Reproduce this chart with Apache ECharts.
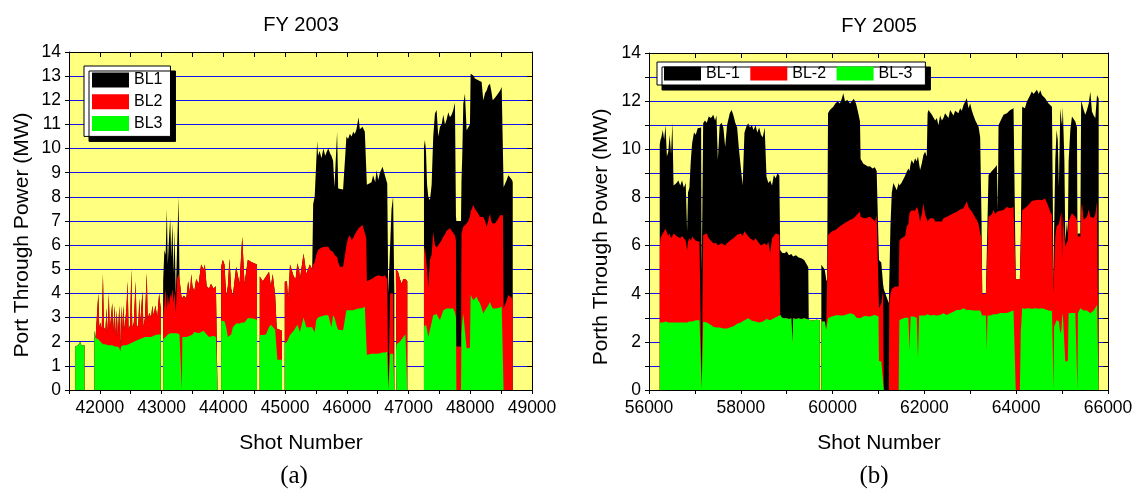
<!DOCTYPE html>
<html><head><meta charset="utf-8">
<script src="https://cdn.jsdelivr.net/npm/echarts@6/dist/echarts.min.js"></script>
<style>html,body{margin:0;padding:0;background:#fff}#c{width:1136px;height:489px}</style>
</head><body><div id="c"></div>
<script>
// ---------- Panel (a) FY 2003 ----------
const shotsA = [
 41600,41650,41680,41700,41750,41755,
 41910,41930,41960,41975,41990,42010,42030,42050,42065,42090,42110,42125,42145,42160,42180,42200,42215,42240,42255,42275,42290,42315,42330,42345,42360,42380,42400,42430,42450,42465,42490,42510,42525,42550,42580,42595,42620,42640,42655,42690,42705,42730,42760,42775,42800,42830,42850,42870,42900,42930,42960,42985,42998,
 43025,43045,43065,43085,43100,43120,43140,43155,43175,43195,43210,43230,43250,43275,43290,43320,43328,43336,43360,43400,43430,43460,43480,43500,43530,43560,43600,43640,43680,43700,43730,43770,43800,43840,43880,43905,43930,
 43965,43992,44019,44046,44073,44100,44127,44154,44208,44262,44306,44343,44397,44452,44500,44545,44565,
 44590,44640,44690,44740,44770,44800,44840,44865,44875,44950,44972,
 44995,45030,45050,45080,45110,45140,45170,45200,45230,45240,45300,45345,45400,45440,45455,45480,45507,45520,45534,45560,45590,45620,45650,45680,45700,45730,45751,45778,45800,45843,45860,45886,45940,45970,45994,46020,46049,46080,46103,46130,46157,46190,46211,46254,46292,46315,46325,46346,46400,46427,46460,46482,46510,46536,46579,46617,46655,46665,46672,46698,46702,46725,46750,46770,46782,
 46795,46806,46830,46860,46890,46914,46950,46980,46995,
 47250,47265,47283,47300,47320,47347,47374,47400,47428,47455,47482,47509,47536,47563,47590,47617,47644,47671,47698,47725,47752,47768,47775,47850,47858,47870,47887,47914,47941,47968,47995,48006,48049,48076,48103,48130,48157,48184,48211,48240,48265,48290,48319,48340,48363,48400,48428,48455,48482,48509,48530,48540,48590,48617,48644,48677,48688
];
const bl3A = [
 1.8,1.85,2.0,1.85,1.85,null,
 2.45,2.15,2.1,2.1,2.1,2.0,1.95,1.9,1.9,1.9,1.85,1.85,1.85,1.85,1.85,1.85,1.85,1.8,1.8,1.8,1.8,1.75,1.6,1.8,1.8,1.85,1.85,1.85,1.9,1.9,1.95,1.95,1.95,2.0,2.05,2.05,2.1,2.1,2.1,2.15,2.15,2.2,2.2,2.2,2.2,2.2,2.25,2.25,2.3,2.3,2.3,2.3,null,
 2.1,2.15,2.2,2.25,2.3,2.3,2.35,2.35,2.35,2.35,2.35,2.4,2.35,2.3,2.3,2.3,0,2.2,2.2,2.2,2.2,2.25,2.3,2.3,2.4,2.4,2.35,2.4,2.45,2.5,2.3,2.2,2.2,2.25,2.2,2.2,null,
 2.87,2.87,2.85,2.6,2.2,2.2,2.3,2.6,2.75,2.75,2.8,2.8,2.97,2.97,2.95,2.9,null,
 2.28,2.28,2.3,2.6,2.7,2.7,2.5,2.5,1.25,1.25,null,
 1.93,2.0,2.1,2.28,2.3,2.45,2.5,2.7,2.65,2.4,3.0,2.6,2.6,2.6,2.5,2.4,2.9,2.95,3.0,3.03,3.05,3.1,3.1,3.1,3.1,3.05,2.6,3.1,3.0,2.6,2.5,2.48,2.48,2.48,3.3,3.3,3.3,3.3,3.3,3.35,3.35,3.38,3.38,3.4,3.45,3.45,1.45,1.5,1.5,1.5,1.5,1.5,1.5,1.5,1.55,1.55,1.58,1.58,0,0,1.5,1.5,1.5,1.5,null,
 1.5,1.9,1.9,2.0,2.1,2.2,2.3,2.35,null,
 2.62,2.62,2.7,2.5,2.2,2.2,2.8,3.1,3.1,3.15,3.0,2.9,3.1,3.3,3.35,3.38,3.38,3.38,3.38,3.38,3.2,3.0,0,0,2.35,2.8,3.17,3.2,1.72,1.72,1.75,3.93,3.72,3.8,3.86,3.7,3.6,3.4,3.17,3.3,3.38,3.5,3.65,3.5,3.38,3.38,3.38,3.4,3.45,3.45,3.45,0,0,0,0,0,0
];
const bl2A = [
 0,0,0,0,0,null,
 0,0,0.1,1.9,0.5,0.8,0.55,2.9,0.7,0.6,1.55,0.45,2.15,0.65,1.15,1.75,0.55,1.7,0.5,1.5,0.4,1.75,0.1,1.7,0.6,1.65,0.65,1.55,2.6,0.6,0.75,3.05,0.65,0.8,2.45,0.65,0.5,1.7,0.7,1.95,0.45,0.8,2.65,0.7,1.0,0.8,1.25,0.85,1.2,0.7,1.7,1.1,null,
 0.9,1.35,2.0,1.05,1.7,1.2,1.65,1.45,1.85,1.25,1.75,0.8,2.25,2.5,2.3,1.6,3.8,1.6,1.7,1.6,2.3,1.75,2.5,2.0,1.7,2.2,2.05,2.8,2.55,2.7,2.0,2.0,2.2,1.95,2.1,2.1,null,
 2.23,2.53,2.35,1.3,2.1,3.25,1.9,1.3,2.35,1.65,3.55,1.6,2.43,2.33,2.3,2.3,null,
 2.42,2.22,2.4,2.3,1.6,2.1,1.4,0.05,1.25,1.2,null,
 2.55,2.5,1.6,2.92,2.65,2.25,2.1,2.55,2.3,2.2,2.65,2.2,2.6,2.4,2.7,2.9,2.7,2.75,2.8,2.83,2.85,2.8,2.83,2.8,2.83,2.75,3.15,2.62,2.6,2.9,2.8,2.62,2.62,2.62,2.7,3.0,3.1,2.9,3.0,3.1,3.15,3.32,3.38,3.43,3.05,2.85,3.05,2.98,3.1,3.15,3.2,3.2,3.25,3.25,3.15,3.2,3.02,3.02,0,0,2.5,2.5,2.5,2.5,null,
 3.5,3.1,3.0,2.6,2.3,2.4,2.3,2.15,null,
 3.03,3.28,3.2,2.5,2.08,3.2,2.8,3.45,2.9,2.75,3.0,3.2,3.1,3.05,3.1,3.22,3.27,3.32,3.32,3.12,3.2,3.2,1.8,1.8,4.13,3.8,3.59,3.6,5.18,5.28,5.45,3.45,3.94,3.7,3.54,3.6,3.57,3.8,4.0,3.7,3.38,3.5,3.65,3.5,3.52,3.52,3.52,3.7,3.79,3.79,3.79,3.38,3.72,3.93,3.93,3.8,3.7
];
const bl1A = [
 0,0,0,0,0, null,
 0,0,0,0,0,0,0,0,0,0, 0,0,0,0,0,0,0,0,0,0, 0,0,0,0,0,0,0,0,0,0, 0,0,0,0,0,0,0,0,0,0, 0,0,0,0,0,0,0,0,0,0, 0,0, null,
 1.5,2.3,1.4,4.2,1.2,2.8,3.1,1.7,2.7,1.2, 2.5,0.7,1.2,3.2,0,0,0,0,0,0, 0,0,0,0,0,0,0,0,0,0, 0,0,0,0,0,0, null,
 0,0,0,0,0,0,0,0,0,0, 0,0,0,0,0,0, null,
 0,0,0,0,0,0,0,0,0,0, null,
 0,0,0,0,0,0,0,0,0,0, 0,0,0,0,2.5,2.7,2.4,4.6,3.9,4.04, 3.7,4.1,3.77,4.0,4.07,4.0,3.95,3.78,2.8,5.2, 3.05,3.2,3.2,3.2,4.5,4.1,4.2,4.3,4.4,4.15, 4.3,4.6,4.04,4.07,4.2,4.4,4.0,4.07,4.0,4.25, 3.9,4.4,3.95,4.25,4.55,4.15,3.95,3.95,4.0,4.0, 0,3.5,4.0,0, null,
 0,0,0,0,0,0,0,0, null,
 4.42,4.45,4.0,3.5,3.72,2.46,2.9,3.95,5.45,5.7, 4.5,4.8,4.8,5.05,4.55,4.6,4.85,4.6,4.7,5.1, 5.5,1.0,5.2,5.2,2.22,3.05,5.1,5.47,3.86,3.83, 3.8,5.72,5.37,5.4,5.45,5.53,5.63,5.56,4.83,5.3, 5.65,5.6,5.39,5.4,5.1,5.2,5.3,5.17,5.16,5.31, 5.26,5.02,4.98,4.97,4.92,4.9,4.9
];

// ---------- Panel (b) FY 2005 ----------
const shotsB = [
 56234,56250,56270,56300,56330,56360,56390,56420,56450,56480,
 56510,56535,56560,56600,56640,56680,56720,56760,56800,56830,
 56850,56880,56910,56940,56980,57020,57060,57100,57135,57148,
 57168,57180,57220,57260,57300,57350,57400,57440,57470,57500,
 57540,57580,57620,57660,57700,57760,57800,57840,57880,57920,
 57960,58000,58040,58080,58120,58160,58200,58240,58280,58320,
 58360,58400,58440,58480,58520,58560,58600,58640,58680,58720,
 58760,58800,58840,58858,58900,58950,59000,59050,59100,59130,
 59140,59200,59260,59320,59380,59440,59470,59480,59550,59650,
 59720,59735,59755,59790,59830,59860,59880,59900,59940,59980,
 60015,60060,60110,60160,60200,60233,60270,60320,60379,60420,
 60460,60500,60524,60560,60597,60610,60640,60670,60720,60770,
 60815,60870,60920,60960,61000,61010,61060,61100,61115,61225,
 61235,61260,61290,61324,61360,61397,61440,61455,61500,61542,
 61580,61615,61651,61675,61700,61724,61761,61797,61833,61860,
 61885,61906,61942,61979,62015,62051,62070,62088,62124,62160,
 62197,62235,62270,62305,62342,62380,62415,62450,62488,62525,
 62561,62600,62633,62670,62706,62740,62779,62815,62852,62890,
 62924,62961,62997,63035,63070,63110,63143,63180,63215,63245,
 63260,63340,63360,63375,63397,63434,63470,63506,63545,63579,
 63600,63615,63652,63690,63724,63760,63797,63835,63870,63910,
 63942,63975,63990,64080,64100,64130,64160,64190,64233,64270,
 64306,64340,64379,64415,64452,64490,64524,64560,64597,64630,
 64670,64705,64742,64779,64805,64815,64825,64852,64880,64905,
 64930,64961,64985,65000,65015,65050,65070,65106,65125,65142,
 65179,65215,65252,65288,65324,65335,65345,65397,65415,65433,
 65470,65505,65542,65580,65615,65650,65688,65724,65761,65797
];
const bl3B = [
 2.8,2.85,2.85,2.8,2.85,2.85,2.8,2.8,2.78,2.8,
 2.82,2.8,2.78,2.8,2.78,2.8,2.78,2.8,2.82,2.8,
 2.85,2.85,2.8,2.85,2.85,2.9,2.88,2.9,2.9,0,
 0,2.84,2.84,2.8,2.8,2.7,2.63,2.63,2.6,2.55,
 2.6,2.6,2.55,2.5,2.55,2.6,2.63,2.65,2.7,2.75,
 2.75,2.8,2.85,2.9,2.95,2.98,2.9,2.88,2.85,2.85,
 2.82,2.8,2.8,2.85,2.9,2.95,2.9,2.9,2.95,2.98,
 2.98,3.05,3.05,3.12,3.0,2.98,2.98,2.95,2.98,1.95,
 2.98,2.95,2.98,2.95,2.98,2.95,2.9,2.9,2.88,2.92,
 2.9,null,2.85,2.9,2.85,2.5,2.5,2.98,3.0,3.05,
 3.05,3.1,3.12,3.1,3.05,3.1,3.12,3.15,3.19,3.2,
 3.15,3.1,3.0,2.98,2.98,3.0,3.05,3.05,3.08,3.05,
 3.05,3.1,3.12,3.1,3.05,1.2,1.18,1.18,0,0,
 0,0,0,0,0,0,0,2.9,2.95,2.98,
 3.0,3.05,3.0,1.65,3.05,3.05,3.05,3.08,3.0,1.35,
 3.1,3.12,3.1,3.08,3.1,3.12,3.15,3.15,3.1,3.12,
 3.12,3.1,3.1,3.12,3.12,3.15,3.19,3.15,3.12,3.15,
 3.19,3.2,3.25,3.28,3.32,3.3,3.32,3.35,3.4,3.35,
 3.32,3.3,3.32,3.3,3.3,3.32,3.3,3.3,3.3,3.25,
 3.1,3.1,1.66,3.1,3.1,3.1,3.12,3.15,3.15,3.15,
 3.15,3.2,3.2,3.25,3.2,3.25,3.2,3.25,3.25,3.3,
 3.3,3.3,0,0,2.4,3.4,3.4,3.38,3.38,3.4,
 3.4,3.38,3.4,3.4,3.4,3.38,3.38,3.4,3.38,3.35,
 3.38,3.3,3.25,3.28,3.25,0,2.63,2.63,2.9,2.9,
 2.85,2.35,2.5,3.0,3.19,3.19,1.18,1.18,1.2,3.19,
 3.25,3.2,3.19,3.2,3.19,0,3.19,3.4,3.45,3.45,
 3.3,3.28,3.3,3.25,3.19,3.25,3.3,3.3,3.53,3.53
];
const bl2B = [
 3.1,3.45,3.55,3.7,3.65,3.85,3.75,3.6,3.72,3.5,
 3.58,3.7,3.8,3.6,3.67,3.5,3.62,3.55,3.38,3.0,
 3.31,3.45,3.4,3.52,3.45,3.3,3.37,3.26,3.3,0,
 0,3.6,3.56,3.7,3.5,3.5,3.47,3.52,3.5,3.45,
 3.4,3.5,3.55,3.5,3.55,3.6,3.52,3.65,3.67,3.7,
 3.65,3.7,3.55,3.7,3.7,3.42,3.4,3.37,3.35,3.45,
 3.38,3.3,3.2,3.11,3.2,3.05,3.25,2.8,3.35,3.42,
 3.52,3.45,3.4,0,0,0,0,0,0,0,
 0,0,0,0,0,0,0,0,0,0,
 0,null,0,0,0,0,0,3.46,3.5,3.53,
 3.55,3.55,3.6,3.7,3.81,3.8,3.83,3.85,3.87,3.9,
 3.98,4.1,4.27,4.37,4.43,4.2,4.15,4.1,4.05,4.13,
 4.15,4.0,3.88,4.15,4.25,2.2,2.42,2.92,0,0,
 3.6,4.0,4.2,4.2,4.3,4.3,4.3,3.3,3.35,3.27,
 3.4,3.75,3.9,5.7,4.35,4.42,4.35,4.37,4.6,6.15,
 4.46,3.88,4.2,4.67,4.2,3.98,3.85,3.85,4.03,3.98,
 4.01,3.9,3.83,3.88,3.94,3.85,3.94,3.95,4.08,4.05,
 4.08,4.1,4.09,4.02,4.08,4.15,4.18,4.15,4.15,4.35,
 4.51,4.3,4.18,4.1,4.0,3.83,3.76,3.6,3.2,3.05,
 0.9,0.9,2.34,0.9,4.1,4.05,4.18,4.33,4.15,4.25,
 4.2,4.25,4.25,4.25,4.28,4.3,4.4,4.3,4.3,4.3,
 4.3,4.3,4.6,4.6,3.6,4.08,4.1,4.17,4.22,4.3,
 4.36,4.47,4.5,4.48,4.45,4.52,4.52,4.48,4.47,4.61,
 4.58,4.3,4.15,3.99,4.02,4.0,2.22,3.77,3.9,3.9,
 4.05,4.85,4.9,2.4,4.11,4.08,4.78,4.82,5.03,3.81,
 3.95,4.14,4.08,4.0,3.87,6.4,3.18,2.97,4.05,4.31,
 3.76,3.82,3.9,4.25,4.01,3.88,3.85,4.0,4.3,4.37
];
const bl1B = [
 4.3,4.1,4.1,4.3,3.9,4.3,3.15,3.5,4.1,3.5,
 4.7,2.0,1.87,2.2,2.25,2.2,2.3,2.05,2.4,0.8,
 2.04,2.1,3.3,3.88,4.4,4.4,4.62,4.78,4.7,4.85,
 4.85,4.64,4.8,4.6,5.06,5.1,5.33,5.05,5.3,3.55,
 5.0,5.0,4.8,4.1,4.9,5.3,5.48,5.1,4.73,4.45,
 3.6,3.54,2.1,4.1,4.29,4.68,4.6,4.75,4.6,4.7,
 4.5,4.8,4.6,4.54,4.8,2.86,2.45,3.0,2.2,2.53,
 2.3,2.5,2.45,2.7,2.7,2.7,2.77,2.65,2.67,3.65,
 2.57,2.65,2.52,2.52,2.42,2.25,2.2,0,0,0,
 0,null,2.35,2.38,2.15,2.1,2.0,5.06,5.13,5.12,
 5.17,5.25,5.26,5.1,5.24,5.43,5.05,5.05,4.84,4.9,
 4.97,4.75,4.53,4.15,3.74,2.4,2.3,2.25,2.22,2.1,
 2.1,2.1,2.25,1.85,1.84,2.0,1.7,0.3,4.2,3.6,
 0.9,2.8,4.0,4.4,4.15,4.0,4.3,2.3,2.3,2.4,
 2.5,2.27,2.3,1.75,2.0,2.08,2.0,2.18,1.9,2.2,
 2.14,2.14,2.1,2.01,2.6,2.6,4.5,4.63,4.44,4.35,
 4.3,4.2,4.37,4.0,4.34,4.2,4.17,4.4,4.3,4.1,
 4.36,4.4,4.06,4.3,4.23,4.05,4.2,4.1,4.29,4.2,
 4.29,4.1,4.4,4.2,4.1,4.05,4.14,4.04,4.0,0.7,
 0,0,0,0,1.73,1.85,1.8,1.66,1.95,1.95,
 0.15,3.55,3.7,3.7,3.95,3.85,3.9,3.95,4.08,4.0,
 4.1,4.05,0,0,0.5,4.29,4.35,4.15,4.38,4.42,
 4.5,4.55,4.4,4.45,4.62,4.4,4.55,4.38,4.35,4.16,
 4.04,4.3,4.44,4.5,4.43,0.2,1.65,3.15,4.0,3.6,
 1.55,4.5,3.8,5.6,4.47,2.23,0.24,1.0,0.27,2.5,
 3.6,4.02,4.03,3.95,3.84,0,0.13,0.13,4.55,4.14,
 4.57,4.33,4.43,4.4,5.2,4.44,4.25,4.0,4.43,4.2
];

const namesA = ['BL1','BL2','BL3'];
const namesB = ['BL-1','BL-2','BL-3'];
const colors = ['#000000','#ff0000','#00ff00'];

const FONT = "'Liberation Sans', Arial, sans-serif";
const BG = '#ffff80';

// cumulative tops of the stacked areas (sum of beamline powers)
function cum(shots, parts){
  return shots.map((s,i)=>{
    if (parts.some(p => p[i] === null || p[i] === undefined)) return [s, '-'];
    let t = 0; parts.forEach(p=>{ t += p[i]; });
    return [s, +t.toFixed(3)];
  });
}
function areaSeries(name, color, data, xi, yi, z){
  return {type:'line', name, xAxisIndex:xi, yAxisIndex:yi, data, z,
    symbol:'none', showSymbol:false, color, itemStyle:{color},
    lineStyle:{width:0, color}, areaStyle:{color, opacity:1, origin:'start'},
    emphasis:{disabled:true}, silent:true, connectNulls:false};
}
function xBottom(grid, min, max, interval, labelStep){
  return {gridIndex:grid, type:'value', position:'bottom', min, max, interval, z:5,
    axisLine:{show:true, onZero:false, lineStyle:{color:'#000', width:1}},
    axisTick:{show:true, inside:false, length:4, lineStyle:{color:'#000'}},
    axisLabel:{fontSize:17.5, color:'#000', fontFamily:FONT, margin:9,
      formatter:v=> (v % labelStep === 0 ? String(v) : '')},
    splitLine:{show:false}};
}
function xTop(grid, min, max, interval){
  return {gridIndex:grid, type:'value', position:'top', min, max, interval, z:5,
    axisLine:{show:true, onZero:false, lineStyle:{color:'#000', width:1}},
    axisTick:{show:true, inside:true, length:5, lineStyle:{color:'#000'}},
    axisLabel:{show:false}, splitLine:{show:false}};
}
function yLeft(grid, labelStep){
  return {gridIndex:grid, type:'value', position:'left', min:0, max:14, interval:1,
    axisLine:{show:true, onZero:false, lineStyle:{color:'#000', width:1}},
    axisTick:{show:true, inside:false, length:4, lineStyle:{color:'#000'}},
    axisLabel:{fontSize:17.5, color:'#000', fontFamily:FONT, margin:8,
      formatter:v=> (v % labelStep === 0 ? String(v) : '')},
    splitLine:{show:true, lineStyle:{color:'#1010f0', width:1.2}}};
}
function yRight(grid){
  return {gridIndex:grid, type:'value', position:'right', min:0, max:14, interval:1,
    axisLine:{show:true, onZero:false, lineStyle:{color:'#000', width:1}},
    axisTick:{show:true, inside:true, length:5, lineStyle:{color:'#000'}},
    axisLabel:{show:false}, splitLine:{show:false}};
}
function txt(x, y, text, size, family, rot){
  return {type:'text', x, y, rotation:rot||0, z:10,
    style:{text, fontSize:size, fontFamily:family||FONT, fill:'#000', align:'center', verticalAlign:'middle'}};
}
const legendCommon = {icon:'rect', selectedMode:false, backgroundColor:'#fff', borderColor:'#000', borderWidth:1,
  shadowColor:'#000', shadowBlur:0, shadowOffsetX:5, shadowOffsetY:5,
  textStyle:{fontSize:16, color:'#000', fontFamily:FONT, lineHeight:15}, itemStyle:{borderWidth:0}};

const chart = echarts.init(document.getElementById('c'), null, {renderer:'canvas'});
chart.setOption({
  animation:false,
  backgroundColor:'#fff',
  grid:[
    {left:69, top:52, width:463, height:338, show:true, backgroundColor:BG, borderWidth:0},
    {left:649, top:53, width:459, height:337, show:true, backgroundColor:BG, borderWidth:0}
  ],
  xAxis:[ xBottom(0, 41500, 49000, 500, 1000), xTop(0, 41500, 49000, 500),
          xBottom(1, 56000, 66000, 1000, 2000), xTop(1, 56000, 66000, 1000) ],
  yAxis:[ yLeft(0, 1), yRight(0), yLeft(1, 2), yRight(1) ],
  legend:[
    Object.assign({}, legendCommon, {data:namesA, orient:'vertical', left:84, top:66,
      itemWidth:37, itemHeight:15, itemGap:5.7, padding:[6,8,5,8]}),
    Object.assign({}, legendCommon, {data:namesB, orient:'horizontal', left:657, top:62,
      itemWidth:37, itemHeight:14, itemGap:10.5, padding:[3.5,13,3.5,7]})
  ],
  series:[
    areaSeries(namesA[0], colors[0], cum(shotsA, [bl3A, bl2A, bl1A]), 0, 0, 2),
    areaSeries(namesA[1], colors[1], cum(shotsA, [bl3A, bl2A]), 0, 0, 3),
    areaSeries(namesA[2], colors[2], cum(shotsA, [bl3A]), 0, 0, 4),
    areaSeries(namesB[0], colors[0], cum(shotsB, [bl3B, bl2B, bl1B]), 2, 2, 2),
    areaSeries(namesB[1], colors[1], cum(shotsB, [bl3B, bl2B]), 2, 2, 3),
    areaSeries(namesB[2], colors[2], cum(shotsB, [bl3B]), 2, 2, 4)
  ],
  graphic:[
    txt(301, 25, 'FY 2003', 20),
    txt(879, 26, 'FY 2005', 20),
    txt(301, 443, 'Shot Number', 21),
    txt(879, 443, 'Shot Number', 21),
    txt(22, 235, 'Port Through Power (MW)', 21, FONT, Math.PI/2),
    txt(601, 237, 'Porth Through Power (MW)', 21, FONT, Math.PI/2),
    txt(294, 476, '(a)', 25, "'Liberation Serif', 'Times New Roman', serif"),
    txt(874, 476, '(b)', 25, "'Liberation Serif', 'Times New Roman', serif")
  ]
});
</script>
</body></html>
